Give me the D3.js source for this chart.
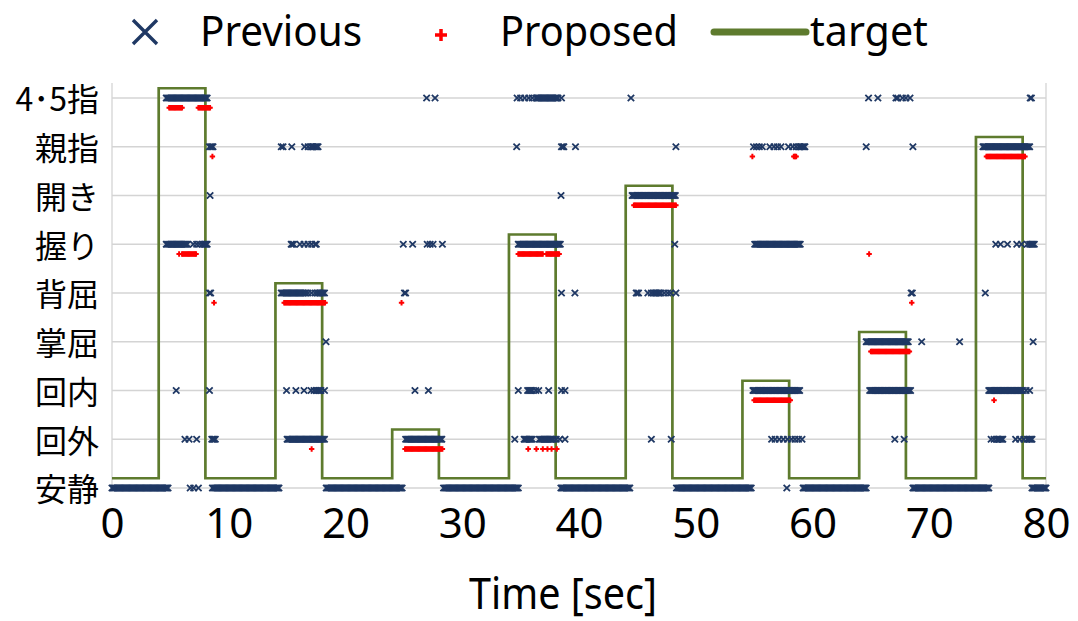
<!DOCTYPE html>
<html>
<head>
<meta charset="utf-8">
<script src="https://cdn.jsdelivr.net/npm/d3@7"></script>
<style>
  html, body { margin: 0; padding: 0; background: #fff; }
  svg { display: block; }
</style>
</head>
<body>
<svg id="chart" width="1078" height="621"></svg>
<script>
// ---- data -------------------------------------------------------------
const categories = ["安静", "回外", "回内", "掌屈", "背屈", "握り", "開き", "親指", "4･5指"];
const timeTicks = [0, 10, 20, 30, 40, 50, 60, 70, 80];

// instructed motion: the label holds from targetTimes[i] until targetTimes[i+1]
const targetTimes  = [0, 4, 8, 14, 18, 24, 28, 34, 38, 44, 48, 54, 58, 64, 68, 74, 78, 80];
const targetLevels = [0, 8, 0, 4, 0, 1, 0, 5, 0, 6, 0, 2, 0, 3, 0, 7, 0, 0];

// classifier output, run-length encoded: [label, first sample (s), last sample (s)]
const SAMPLE_DT = 0.1;
const previousRuns = [
  [0, 0, 4.8], [0, 8.6, 14.35], [0, 18.35, 24.9], [0, 28.4, 34.85], [0, 38.45, 44.4],
  [0, 48.35, 54.8], [0, 59.2, 64.65], [0, 68.6, 75.1], [0, 78.8, 80],
  [1, 8.55, 8.85], [1, 15.0, 18.25], [1, 25.15, 28.25], [1, 35.3, 36.0], [1, 36.6, 37.8],
  [1, 75.8, 76.3], [1, 78.4, 78.85],
  [2, 17.5, 17.9], [2, 35.6, 36.0], [2, 54.9, 58.9], [2, 64.9, 68.4], [2, 75.1, 78.0],
  [3, 64.6, 68.25],
  [4, 14.5, 16.6], [4, 17.6, 18.27], [4, 44.9, 45.15], [4, 46.4, 47.0],
  [5, 4.65, 6.45], [5, 7.75, 8.2], [5, 15.35, 15.6], [5, 17.4, 17.55], [5, 34.8, 38.4],
  [5, 55.05, 58.95], [5, 78.6, 79.0],
  [6, 44.55, 48.25],
  [7, 8.35, 8.65], [7, 17.05, 17.7], [7, 38.5, 38.7], [7, 58.85, 59.35], [7, 74.6, 78.6],
  [8, 4.65, 8.2], [8, 36.3, 38.2]
];
// isolated samples: [label, time (s)]
const previousPoints = [
  [0, 6.7], [0, 7.0], [0, 7.4], [0, 57.8],
  [1, 6.25], [1, 6.6], [1, 7.25], [1, 34.5], [1, 38.05], [1, 38.35], [1, 38.8], [1, 46.2],
  [1, 47.9], [1, 56.5], [1, 56.8], [1, 57.15], [1, 57.5], [1, 57.85], [1, 58.2], [1, 58.5],
  [1, 58.8], [1, 59.1], [1, 67.05], [1, 67.85], [1, 75.3], [1, 75.55], [1, 77.4], [1, 77.75],
  [1, 78.1],
  [2, 5.5], [2, 8.35], [2, 14.95], [2, 15.75], [2, 16.45], [2, 17.05], [2, 17.3], [2, 18.2],
  [2, 25.95], [2, 27.1], [2, 34.8], [2, 36.3], [2, 36.55], [2, 37.4], [2, 38.5], [2, 38.8],
  [2, 78.3], [2, 78.6],
  [3, 18.33], [3, 69.35], [3, 72.6], [3, 78.9],
  [4, 8.35], [4, 8.45], [4, 16.8], [4, 17.1], [4, 17.4], [4, 25.05], [4, 25.15], [4, 38.5],
  [4, 39.65], [4, 45.9], [4, 46.2], [4, 47.3], [4, 47.6], [4, 47.85], [4, 48.3], [4, 68.45],
  [4, 68.55], [4, 74.8],
  [5, 6.96], [5, 7.25], [5, 7.5], [5, 16.1], [5, 16.45], [5, 16.8], [5, 17.1], [5, 24.95],
  [5, 25.75], [5, 27.0], [5, 27.25], [5, 27.5], [5, 28.3], [5, 48.2], [5, 75.7], [5, 76.1],
  [5, 76.7], [5, 77.5], [5, 77.9], [5, 78.4],
  [6, 8.4], [6, 38.46],
  [7, 14.5], [7, 14.65], [7, 15.4], [7, 16.5], [7, 16.8], [7, 34.66], [7, 39.7], [7, 48.3],
  [7, 54.95], [7, 55.2], [7, 55.45], [7, 55.7], [7, 56.35], [7, 56.7], [7, 57.0], [7, 57.3],
  [7, 57.95], [7, 58.3], [7, 58.6], [7, 64.6], [7, 68.6],
  [8, 26.95], [8, 27.67], [8, 34.7], [8, 35.0], [8, 35.35], [8, 35.7], [8, 36.0], [8, 38.5],
  [8, 44.45], [8, 64.8], [8, 65.6], [8, 67.15], [8, 67.3], [8, 67.7], [8, 68.0], [8, 68.35],
  [8, 78.65], [8, 78.75]
];

const proposedRuns = [
  [8, 4.9, 6.0], [8, 7.4, 8.4],
  [7, 58.4, 58.6], [7, 74.9, 78.25],
  [6, 44.7, 48.3],
  [5, 6.0, 7.2], [5, 34.8, 36.9], [5, 37.2, 38.3],
  [4, 14.75, 18.3],
  [3, 65.0, 68.3],
  [2, 55.0, 58.15],
  [1, 25.1, 28.3]
];
const proposedPoints = [
  [7, 8.6], [7, 54.85], [5, 5.75], [5, 64.85], [4, 8.74], [4, 24.8], [4, 68.5],
  [2, 75.55], [1, 17.1], [1, 35.65], [1, 36.35], [1, 36.9], [1, 37.3], [1, 37.65], [1, 38.1]
];

// ---- layout -------------------------------------------------------------
const plot = { left: 112, right: 1046, top: 83, bottom: 488 };
const TARGET_OFFSET = 0.2;    // target drawn just above its label row
const PROPOSED_OFFSET = -0.2; // proposed drawn just below its label row

const COLORS = { previous: "#1f3864", proposed: "#ff0000", target: "#5e7b2e", grid: "#d4d4d4" };

const svg = d3.select("#chart");
const x = d3.scaleLinear().domain([0, 80]).range([plot.left, plot.right]);
const y = d3.scaleLinear().domain([0, 8]).range([plot.bottom, 98]);

function expand(runs, points) {
  const out = [];
  runs.forEach(([c, a, b]) => {
    d3.range(a, b + 1e-6, SAMPLE_DT).forEach(t => out.push([c, t]));
  });
  return out.concat(points);
}

// horizontal gridlines, one per label
svg.append("g")
  .selectAll("line")
  .data(d3.range(categories.length))
  .join("line")
  .attr("x1", plot.left).attr("x2", plot.right)
  .attr("y1", d => y(d)).attr("y2", d => y(d))
  .attr("stroke", COLORS.grid).attr("stroke-width", 1.3);

// plot frame sides
svg.append("g").selectAll("line")
  .data([plot.left, plot.right])
  .join("line")
  .attr("x1", d => d).attr("x2", d => d)
  .attr("y1", plot.top).attr("y2", plot.bottom)
  .attr("stroke", COLORS.grid).attr("stroke-width", 1.3);

// y axis: motion labels
const yAxis = d3.axisLeft(y)
  .tickValues(d3.range(categories.length))
  .tickFormat(i => categories[i])
  .tickSize(0).tickPadding(13);
const gy = svg.append("g").attr("transform", `translate(${plot.left},0)`).call(yAxis);
gy.select(".domain").remove();
gy.selectAll("text")
  .attr("font-family", "'Noto Sans CJK JP', 'Noto Sans', sans-serif")
  .attr("font-size", 32).attr("fill", "#000").attr("dy", "0.4em");

// x axis: time
const xAxis = d3.axisBottom(x).tickValues(timeTicks).tickSize(0).tickPadding(20);
const gx = svg.append("g").attr("transform", `translate(0,${plot.bottom})`).call(xAxis);
gx.select(".domain").remove();
gx.selectAll("text")
  .attr("font-family", "'Noto Sans', sans-serif")
  .attr("font-size", 42).attr("fill", "#000");

svg.append("text")
  .attr("x", 563).attr("y", 609)
  .attr("text-anchor", "middle")
  .attr("font-family", "'Noto Sans', sans-serif")
  .attr("font-size", 44).attr("fill", "#000")
  .attr("textLength", 188).attr("lengthAdjust", "spacingAndGlyphs")
  .text("Time [sec]");

// target step line
const targetData = targetTimes.map((t, i) => [t, targetLevels[i]]);
svg.append("path")
  .datum(targetData)
  .attr("fill", "none")
  .attr("stroke", COLORS.target)
  .attr("stroke-width", 2.7)
  .attr("d", d3.line()
    .x(d => x(d[0]))
    .y(d => y(d[1] + TARGET_OFFSET))
    .curve(d3.curveStepAfter));

// Previous: x markers
const crossPath = s => `M${-s},${-s}L${s},${s}M${-s},${s}L${s},${-s}`;
svg.append("g")
  .selectAll("path")
  .data(expand(previousRuns, previousPoints))
  .join("path")
  .attr("transform", d => `translate(${x(d[1])},${y(d[0])})`)
  .attr("d", crossPath(3.2))
  .attr("fill", "none")
  .attr("stroke", COLORS.previous)
  .attr("stroke-width", 1.8);

// Proposed: + markers
const plusPath = s => `M${-s},0L${s},0M0,${-s}L0,${s}`;
svg.append("g")
  .selectAll("path")
  .data(expand(proposedRuns, proposedPoints))
  .join("path")
  .attr("transform", d => `translate(${x(d[1])},${y(d[0] + PROPOSED_OFFSET)})`)
  .attr("d", plusPath(2.7))
  .attr("fill", "none")
  .attr("stroke", COLORS.proposed)
  .attr("stroke-width", 2);

// legend
const legend = svg.append("g");
const legendFont = "'Noto Sans', sans-serif";
legend.append("path")
  .attr("transform", "translate(145,32)")
  .attr("d", crossPath(12))
  .attr("fill", "none").attr("stroke", COLORS.previous).attr("stroke-width", 3.4);
legend.append("path")
  .attr("transform", "translate(441,35)")
  .attr("d", plusPath(6))
  .attr("fill", "none").attr("stroke", COLORS.proposed).attr("stroke-width", 3.5);
legend.append("line")
  .attr("x1", 714).attr("x2", 806).attr("y1", 32).attr("y2", 32)
  .attr("stroke", COLORS.target).attr("stroke-width", 7).attr("stroke-linecap", "round");
[["Previous", 200, 162], ["Proposed", 500, 178], ["target", 810, 118]].forEach(([label, lx, len]) => {
  legend.append("text")
    .attr("x", lx).attr("y", 46)
    .attr("font-family", legendFont).attr("font-size", 42).attr("fill", "#000")
    .attr("textLength", len).attr("lengthAdjust", "spacingAndGlyphs")
    .text(label);
});
</script>
</body>
</html>
